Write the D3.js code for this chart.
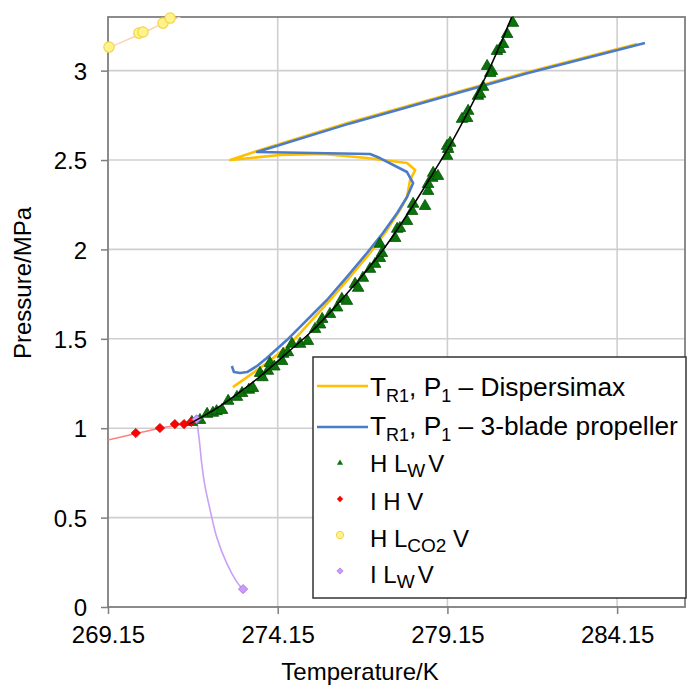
<!DOCTYPE html>
<html>
<head>
<meta charset="utf-8">
<script src="https://cdn.jsdelivr.net/npm/d3@7"></script>
<style>
  html, body { margin: 0; padding: 0; background: #fff; }
  svg { display: block; font-family: "Liberation Sans", Arial, sans-serif; }
</style>
</head>
<body>
<svg id="chart" width="689" height="687"></svg>
<script>
// Axis ticks
const tempTicks = [269.15, 274.15, 279.15, 284.15];
const pressTicks = [0, 0.5, 1, 1.5, 2, 2.5, 3];

// Reactor temperature / pressure trajectory – Dispersimax impeller
const dispT = [272.83, 273.25, 273.83, 274.42, 274.81, 275.69, 276.28, 276.87, 277.37, 277.75, 277.96, 278.05, 278.20, 277.96, 276.78, 275.49, 274.22, 272.75, 273.54, 276.28, 278.90, 281.50, 284.74];
const dispP = [1.230, 1.286, 1.365, 1.454, 1.532, 1.717, 1.846, 1.980, 2.108, 2.220, 2.293, 2.388, 2.444, 2.483, 2.511, 2.534, 2.528, 2.500, 2.551, 2.711, 2.851, 2.991, 3.149];

// Reactor temperature / pressure trajectory – 3-blade propeller
const propT = [272.80, 272.86, 273.04, 273.25, 273.54, 273.83, 274.42, 275.60, 276.19, 276.78, 277.25, 277.67, 277.96, 278.14, 277.96, 277.16, 276.87, 273.54, 276.28, 278.90, 281.50, 284.97];
const propP = [1.348, 1.314, 1.309, 1.314, 1.348, 1.393, 1.493, 1.717, 1.846, 1.980, 2.092, 2.204, 2.293, 2.371, 2.433, 2.511, 2.534, 2.545, 2.705, 2.845, 2.985, 3.154];

// H-Lw-V equilibrium measurements
const hlwvT = [271.62, 271.86, 272.07, 272.24, 272.35, 272.51, 272.69, 272.95, 273.10, 273.30, 273.42, 273.63, 273.70, 273.86, 273.92, 274.05, 274.28, 274.31, 274.45, 274.57, 274.81, 275.04, 275.25, 275.40, 275.46, 275.69, 275.90, 276.04, 276.19, 276.43, 276.52, 276.66, 276.87, 277.02, 277.16, 277.16, 277.22, 277.61, 277.67, 277.75, 277.96, 278.11, 278.14, 278.49, 278.58, 278.58, 278.70, 278.73, 278.87, 279.14, 279.17, 279.14, 279.23, 279.58, 279.73, 279.76, 280.05, 280.11, 280.20, 280.32, 280.46, 280.41, 280.61, 280.70, 280.79, 280.91, 281.08];
const hlwvP = [1.040, 1.051, 1.085, 1.091, 1.100, 1.107, 1.158, 1.180, 1.202, 1.220, 1.230, 1.314, 1.290, 1.326, 1.370, 1.350, 1.381, 1.421, 1.430, 1.477, 1.477, 1.493, 1.560, 1.585, 1.616, 1.644, 1.680, 1.728, 1.717, 1.812, 1.790, 1.846, 1.896, 1.924, 1.957, 2.036, 1.985, 2.069, 2.120, 2.125, 2.164, 2.220, 2.260, 2.248, 2.332, 2.371, 2.405, 2.433, 2.416, 2.528, 2.567, 2.584, 2.601, 2.735, 2.740, 2.780, 2.864, 2.875, 2.914, 3.031, 3.003, 2.992, 3.115, 3.126, 3.154, 3.210, 3.272];

// H-Lw-V calculated equilibrium curve
const hlwvCurveT = [271.54, 272.30, 272.83, 273.60, 274.42, 275.19, 276.28, 277.25, 278.05, 278.73, 279.31, 279.80, 280.30, 280.75, 281.15];
const hlwvCurveP = [1.023, 1.105, 1.174, 1.285, 1.420, 1.549, 1.773, 1.997, 2.220, 2.427, 2.612, 2.785, 2.975, 3.165, 3.350];

// I-H-V measurements and curve
const ihvT = [269.97, 270.68, 271.12, 271.39, 271.60];
const ihvP = [0.973, 1.001, 1.023, 1.023, 1.035];
const ihvCurveT = [269.15, 269.97, 270.68, 271.12, 271.54];
const ihvCurveP = [0.934, 0.970, 1.000, 1.015, 1.030];

// H-Lco2-V measurements and curve
const hlco2vT = [269.18, 270.06, 270.18, 270.77, 270.98];
const hlco2vP = [3.132, 3.210, 3.216, 3.266, 3.294];
const hlco2vCurveT = [269.15, 269.80, 270.50, 271.20, 271.90];
const hlco2vCurveP = [3.126, 3.180, 3.240, 3.295, 3.350];

// I-Lw-V points and curve
const ilwvT = [271.76, 273.13];
const ilwvP = [1.050, 0.100];
const ilwvCurveT = [271.76, 271.84, 271.91, 272.01, 272.16, 272.35, 272.65, 272.94, 273.12];
const ilwvCurveP = [1.050, 0.934, 0.804, 0.673, 0.542, 0.393, 0.244, 0.142, 0.099];

const zip = (a, b) => a.map((v, i) => [v, b[i]]);

const svg = d3.select("#chart");
const plot = { left: 108, right: 685, top: 17, bottom: 607 };

const x = d3.scaleLinear().domain([269.15, 286.15]).range([plot.left, plot.right]);
const y = d3.scaleLinear().domain([0, 3.3]).range([plot.bottom, plot.top]);

svg.append("defs").append("clipPath").attr("id", "plotClip")
  .append("rect")
  .attr("x", plot.left).attr("y", plot.top)
  .attr("width", plot.right - plot.left).attr("height", plot.bottom - plot.top);

// Gridlines
const grid = svg.append("g");
grid.selectAll("line.v").data(tempTicks.slice(1)).join("line")
  .attr("x1", d => x(d)).attr("x2", d => x(d))
  .attr("y1", plot.top).attr("y2", plot.bottom)
  .attr("stroke", "#cfcfcf").attr("stroke-width", 1.6);
grid.selectAll("line.h").data(pressTicks.slice(1)).join("line")
  .attr("x1", plot.left).attr("x2", plot.right)
  .attr("y1", d => y(d)).attr("y2", d => y(d))
  .attr("stroke", "#cfcfcf").attr("stroke-width", 1.6);

// Axes
const xAxis = d3.axisBottom(x).tickValues(tempTicks).tickFormat(d3.format(".2f"))
  .tickSizeInner(7).tickSizeOuter(0).tickPadding(12);
const yAxis = d3.axisLeft(y).tickValues(pressTicks).tickFormat(d => String(d))
  .tickSizeInner(7).tickSizeOuter(0).tickPadding(14);

const gx = svg.append("g").attr("transform", `translate(0,${plot.bottom})`).call(xAxis);
const gy = svg.append("g").attr("transform", `translate(${plot.left},0)`).call(yAxis);
[gx, gy].forEach(g => {
  g.select(".domain").remove();
  g.selectAll(".tick line").attr("stroke", "#7f7f7f").attr("stroke-width", 1.5);
  g.selectAll(".tick text").attr("font-size", 24).attr("fill", "#000")
    .attr("font-family", "'Liberation Sans', Arial, sans-serif");
});
gy.selectAll(".tick text").attr("dy", "0.36em");

// Plot frame
svg.append("rect")
  .attr("x", plot.left).attr("y", plot.top)
  .attr("width", plot.right - plot.left).attr("height", plot.bottom - plot.top)
  .attr("fill", "none").attr("stroke", "#7f7f7f").attr("stroke-width", 1.8);

// Axis titles
svg.append("text").attr("x", 360).attr("y", 680).attr("text-anchor", "middle")
  .attr("font-size", 24).text("Temperature/K");
svg.append("text").attr("transform", "translate(31,283) rotate(-90)")
  .attr("text-anchor", "middle").attr("font-size", 24).text("Pressure/MPa");

const line = d3.line().x(d => x(d[0])).y(d => y(d[1]));
const smooth = d3.line().x(d => x(d[0])).y(d => y(d[1])).curve(d3.curveCatmullRom.alpha(0.5));

const series = svg.append("g").attr("clip-path", "url(#plotClip)");

// Trajectories
series.append("path").datum(zip(dispT, dispP)).attr("d", line)
  .attr("fill", "none").attr("stroke", "#ffc000").attr("stroke-width", 2.6).attr("stroke-linejoin", "round");
series.append("path").datum(zip(propT, propP)).attr("d", line)
  .attr("fill", "none").attr("stroke", "#4a7cc9").attr("stroke-width", 2.6).attr("stroke-linejoin", "round");

// Calculated equilibrium curves
series.append("path").datum(zip(ihvCurveT, ihvCurveP)).attr("d", smooth)
  .attr("fill", "none").attr("stroke", "#ff8080").attr("stroke-width", 1.5);
series.append("path").datum(zip(hlco2vCurveT, hlco2vCurveP)).attr("d", smooth)
  .attr("fill", "none").attr("stroke", "#ffd3b0").attr("stroke-width", 1.5);
series.append("path").datum(zip(ilwvCurveT, ilwvCurveP)).attr("d", smooth)
  .attr("fill", "none").attr("stroke", "#c9a0f5").attr("stroke-width", 1.6);

const markers = svg.append("g");
const tri = d3.symbol().type(d3.symbolTriangle).size(58);
const dia = d3.symbol().type(d3.symbolSquare).size(42);
const dot = d3.symbol().type(d3.symbolCircle).size(85);

markers.selectAll("path.hlwv").data(zip(hlwvT, hlwvP)).join("path")
  .attr("d", tri).attr("transform", d => `translate(${x(d[0])},${y(d[1]) + 1})`)
  .attr("fill", "#0a740a").attr("stroke", "#045004").attr("stroke-width", 0.8);

svg.append("path").datum(zip(hlwvCurveT, hlwvCurveP)).attr("d", smooth)
  .attr("clip-path", "url(#plotClip)")
  .attr("fill", "none").attr("stroke", "#000").attr("stroke-width", 1.5);

markers.selectAll("path.ihv").data(zip(ihvT, ihvP)).join("path")
  .attr("d", dia).attr("transform", d => `translate(${x(d[0])},${y(d[1])}) rotate(45)`)
  .attr("fill", "#ff0000").attr("stroke", "#d00000").attr("stroke-width", 0.8);
markers.selectAll("path.hlco2v").data(zip(hlco2vT, hlco2vP)).join("path")
  .attr("d", dot).attr("transform", d => `translate(${x(d[0])},${y(d[1])})`)
  .attr("fill", "#fff38a").attr("stroke", "#f3d54a").attr("stroke-width", 1.2);
markers.selectAll("path.ilwv").data(zip(ilwvT, ilwvP)).join("path")
  .attr("d", dia).attr("transform", d => `translate(${x(d[0])},${y(d[1])}) rotate(45)`)
  .attr("fill", "#cc99ff").attr("stroke", "#a070d0").attr("stroke-width", 0.8);

// Legend
const legend = svg.append("g");
legend.append("rect").attr("x", 313).attr("y", 357).attr("width", 373).attr("height", 241)
  .attr("fill", "#fff").attr("stroke", "#333").attr("stroke-width", 1.5);

const legendItems = [
  { kind: "line", color: "#ffc000", cy: 386, base: 396, size: 26.3, sub: 0.7, drop: 6,
    parts: [["T"], ["R1", 1], [", P"], ["1", 1], [" – Dispersimax"]] },
  { kind: "line", color: "#4a7cc9", cy: 427, base: 435, size: 26.3, sub: 0.7, drop: 6,
    parts: [["T"], ["R1", 1], [", P"], ["1", 1], [" – 3-blade propeller"]] },
  { kind: "tri", cy: 463, base: 472, size: 24, sub: 0.78, drop: 5, parts: [["H L"], ["W", 1], ["V", 0, 3]] },
  { kind: "ihv", cy: 499, base: 510, size: 24, sub: 0.78, drop: 5, parts: [["I H V"]] },
  { kind: "dot", cy: 535, base: 547, size: 24, sub: 0.78, drop: 5, parts: [["H L"], ["CO2", 1], [" V"]] },
  { kind: "ilwv", cy: 571, base: 583, size: 24, sub: 0.78, drop: 5, parts: [["I L"], ["W", 1], ["V", 0, 3]] }
];

legendItems.forEach(it => {
  if (it.kind === "line") {
    legend.append("line").attr("x1", 317).attr("x2", 368).attr("y1", it.cy).attr("y2", it.cy)
      .attr("stroke", it.color).attr("stroke-width", 2.6);
  } else if (it.kind === "tri") {
    legend.append("path").attr("d", d3.symbol().type(d3.symbolTriangle).size(16))
      .attr("transform", `translate(340,${it.cy})`).attr("fill", "#0a740a");
  } else if (it.kind === "ihv") {
    legend.append("path").attr("d", d3.symbol().type(d3.symbolSquare).size(20))
      .attr("transform", `translate(340,${it.cy}) rotate(45)`).attr("fill", "#ff0000");
  } else if (it.kind === "dot") {
    legend.append("path").attr("d", d3.symbol().type(d3.symbolCircle).size(42))
      .attr("transform", `translate(340,${it.cy})`).attr("fill", "#fff38a").attr("stroke", "#f3d54a");
  } else if (it.kind === "ilwv") {
    legend.append("path").attr("d", d3.symbol().type(d3.symbolSquare).size(20))
      .attr("transform", `translate(340,${it.cy}) rotate(45)`).attr("fill", "#cc99ff").attr("stroke", "#a070d0").attr("stroke-width", 0.6);
  }
  const t = legend.append("text").attr("x", 370).attr("y", it.base).attr("font-size", it.size).attr("fill", "#000");
  let shifted = false;
  it.parts.forEach(([s, sub, gap]) => {
    const span = t.append("tspan").text(s);
    if (sub) {
      span.attr("font-size", Math.round(it.size * it.sub)).attr("dy", it.drop);
      shifted = true;
    } else if (shifted) {
      span.attr("dy", -it.drop);
      shifted = false;
    }
    if (gap) span.attr("dx", gap);
  });
});
</script>
</body>
</html>
